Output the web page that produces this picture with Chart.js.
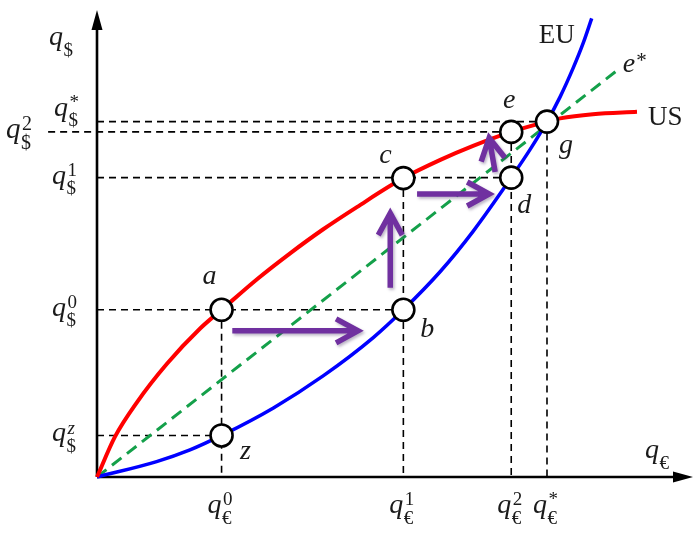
<!DOCTYPE html>
<html>
<head>
<meta charset="utf-8">
<script src="https://cdn.jsdelivr.net/npm/chart.js@4/dist/chart.umd.min.js"></script>
<style>
html, body { margin: 0; padding: 0; background: #fff; }
#wrap { width: 696px; height: 533px; position: relative; }
</style>
</head>
<body>
<div id="wrap"><canvas id="c"></canvas></div>
<script>
// Offer curves: dollars (vertical) against euros (horizontal)
const usX = [0, 0.30, 0.67, 1.17, 1.73, 2.09, 2.68, 3.24, 3.79, 4.36, 5.14, 5.76, 6.31, 6.95, 7.55, 7.77, 8.32, 9.06];
const usY = [0, 0.86, 1.60, 2.42, 3.18, 3.58, 4.23, 4.79, 5.30, 5.78, 6.40, 6.79, 7.09, 7.39, 7.61, 7.68, 7.77, 7.82];
const euX = [0, 1.00, 1.56, 2.09, 2.96, 3.80, 4.64, 5.14, 5.76, 6.31, 6.95, 7.27, 7.55, 7.77, 7.99, 8.16, 8.30];
const euY = [0, 0.33, 0.58, 0.89, 1.48, 2.17, 2.99, 3.58, 4.40, 5.26, 6.41, 7.02, 7.61, 8.14, 8.76, 9.30, 9.82];
const eStarX = [0, 8.72];
const eStarY = [0, 8.70];

// Marked points along the adjustment path
const pointNames = ['a', 'b', 'c', 'd', 'e', 'g', 'z'];
const pointX = [2.09, 5.14, 5.14, 6.95, 6.95, 7.55, 2.09];
const pointY = [3.58, 3.58, 6.40, 6.41, 7.39, 7.61, 0.89];

// Tick levels on each axis
const euroTickLabels = ['0', '1', '2', '*'];
const euroTickValues = [2.09, 5.14, 6.95, 7.55];
const dollarTickLabels = ['z', '0', '1', '2', '*'];
const dollarTickValues = [0.89, 3.58, 6.41, 7.39, 7.61];

// Dashed guides: horizontal ones run from the dollar axis to a point,
// vertical ones drop from a point to the euro axis
const hGuideY = [0.89, 3.58, 6.41, 7.39, 7.61];
const hGuideFrom = [0, 0, 0, -0.82, 0];
const hGuideTo = [2.09, 5.14, 6.95, 6.95, 7.55];
const vGuideX = [2.09, 5.14, 6.95, 7.55];
const vGuideTop = [3.58, 6.40, 7.39, 7.61];

// Adjustment arrows (start -> end)
const arrowFromX = [2.27, 4.92, 5.37, 6.68];
const arrowFromY = [3.13, 4.05, 6.06, 6.53];
const arrowToX = [4.38, 4.92, 6.58, 6.58];
const arrowToY = [3.13, 5.65, 6.06, 7.26];

const SERIF = '"Liberation Serif", "DejaVu Serif", serif';

// label placement around each marked point (dx, baseline dy in px)
const pointLabelOffset = {
  a: [-12, -26], b: [24, 27], c: [-18, -15], d: [13, 35],
  e: [-2, -24], g: [19, 31], z: [24, 24]
};

const zip = (xs, ys) => xs.map((x, i) => ({ x, y: ys[i] }));

const datasets = [];
datasets.push({
  label: 'points',
  data: zip(pointX, pointY),
  showLine: false,
  pointRadius: 11,
  pointHoverRadius: 11,
  pointBorderWidth: 2.6,
  pointBackgroundColor: '#ffffff',
  pointBorderColor: '#000000',
  order: 0
});
datasets.push({
  label: 'US',
  data: zip(usX, usY),
  borderColor: '#ff0000',
  borderWidth: 4,
  pointRadius: 0,
  cubicInterpolationMode: 'monotone',
  fill: false,
  order: 1
});
datasets.push({
  label: 'EU',
  data: zip(euX, euY),
  borderColor: '#0000ff',
  borderWidth: 3.5,
  pointRadius: 0,
  cubicInterpolationMode: 'monotone',
  fill: false,
  order: 1
});
datasets.push({
  label: 'e*',
  data: zip(eStarX, eStarY),
  borderColor: '#14a04a',
  borderWidth: 3,
  borderDash: [12, 7],
  pointRadius: 0,
  fill: false,
  order: 2
});
hGuideY.forEach((y, i) => {
  datasets.push({
    label: 'h' + i,
    data: [{ x: hGuideFrom[i], y }, { x: hGuideTo[i], y }],
    borderColor: '#000',
    borderWidth: 1.6,
    borderDash: [7, 5],
    pointRadius: 0,
    order: 3
  });
});
vGuideX.forEach((x, i) => {
  datasets.push({
    label: 'v' + i,
    data: [{ x, y: vGuideTop[i] }, { x, y: 0 }],
    borderColor: '#000',
    borderWidth: 1.6,
    borderDash: [7, 5],
    pointRadius: 0,
    order: 3
  });
});

// "q" with a currency subscript and an optional superscript
function drawQ(ctx, left, base, sub, sup, size) {
  ctx.textAlign = 'left';
  ctx.textBaseline = 'alphabetic';
  ctx.font = 'italic ' + size + 'px ' + SERIF;
  ctx.fillText('q', left, base);
  const w = ctx.measureText('q').width;
  const s = Math.round(size * 0.68);
  const sx = left + w + 0.5;
  ctx.font = s + 'px ' + SERIF;
  ctx.fillText(sub, sx, base + size * 0.38);
  if (sup) {
    ctx.font = (sup === 'z' ? 'italic ' : '') + s + 'px ' + SERIF;
    ctx.fillText(sup, sx + 1, base - size * 0.28);
  }
}

function drawArrow(ctx, x1, y1, x2, y2) {
  const ang = Math.atan2(y2 - y1, x2 - x1);
  const hl = 22, hw = 12;
  const c = Math.cos(ang), s = Math.sin(ang);
  ctx.beginPath();
  ctx.moveTo(x1, y1);
  ctx.lineTo(x2 - 2 * c, y2 - 2 * s);
  ctx.moveTo(x2 - hl * c + hw * s, y2 - hl * s - hw * c);
  ctx.lineTo(x2, y2);
  ctx.lineTo(x2 - hl * c - hw * s, y2 - hl * s + hw * c);
  ctx.stroke();
}

const diagram = {
  id: 'diagram',
  beforeDatasetsDraw(chart) {
    const { ctx, scales: { x, y } } = chart;
    const x0 = x.getPixelForValue(0), y0 = y.getPixelForValue(0);
    const xEnd = x.getPixelForValue(10), yEnd = y.getPixelForValue(10);
    ctx.save();
    ctx.strokeStyle = '#000';
    ctx.fillStyle = '#000';
    ctx.lineWidth = 2.6;
    ctx.beginPath();
    ctx.moveTo(x0, y0);
    ctx.lineTo(x0, yEnd + 14);
    ctx.moveTo(x0, y0);
    ctx.lineTo(xEnd - 14, y0);
    ctx.stroke();
    // arrow heads
    ctx.beginPath();
    ctx.moveTo(x0, yEnd);
    ctx.lineTo(x0 - 5.5, yEnd + 20);
    ctx.lineTo(x0 + 5.5, yEnd + 20);
    ctx.closePath();
    ctx.fill();
    ctx.beginPath();
    ctx.moveTo(xEnd, y0);
    ctx.lineTo(xEnd - 20, y0 - 5.5);
    ctx.lineTo(xEnd - 20, y0 + 5.5);
    ctx.closePath();
    ctx.fill();
    ctx.restore();
  },
  afterDatasetsDraw(chart) {
    const { ctx, scales: { x, y } } = chart;
    ctx.save();
    ctx.strokeStyle = '#7030a0';
    ctx.lineWidth = 5.5;
    ctx.lineCap = 'butt';
    ctx.lineJoin = 'miter';
    ctx.shadowColor = 'rgba(60,40,90,0.35)';
    ctx.shadowBlur = 3;
    ctx.shadowOffsetX = 1.5;
    ctx.shadowOffsetY = 2;
    arrowFromX.forEach((_, i) => {
      drawArrow(ctx,
        x.getPixelForValue(arrowFromX[i]), y.getPixelForValue(arrowFromY[i]),
        x.getPixelForValue(arrowToX[i]), y.getPixelForValue(arrowToY[i]));
    });
    ctx.restore();
  },
  afterDraw(chart) {
    const { ctx, scales: { x, y } } = chart;
    ctx.save();
    ctx.fillStyle = '#1a1a1a';
    // dollar axis
    drawQ(ctx, 49, 45, '$', null, 28);
    dollarTickLabels.forEach((t, i) => {
      const py = y.getPixelForValue(dollarTickValues[i]);
      if (t === '2') drawQ(ctx, 6, py + 6, '$', t, 29);
      else if (t === '*') drawQ(ctx, 54, py - 6, '$', t, 28);
      else drawQ(ctx, 52, py + 6, '$', t, 28);
    });
    // euro axis
    drawQ(ctx, 645, 458, '€', null, 28);
    euroTickLabels.forEach((t, i) => {
      const px = x.getPixelForValue(euroTickValues[i]);
      drawQ(ctx, px - 14, 513, '€', t, 28);
    });
    // point names
    ctx.font = 'italic 28px ' + SERIF;
    ctx.textAlign = 'center';
    ctx.textBaseline = 'alphabetic';
    pointNames.forEach((n, i) => {
      const off = pointLabelOffset[n];
      ctx.fillText(n, x.getPixelForValue(pointX[i]) + off[0], y.getPixelForValue(pointY[i]) + off[1]);
    });
    // curve names
    ctx.textAlign = 'left';
    ctx.font = '27px ' + SERIF;
    const euEnd = euX.length - 1, usEnd = usX.length - 1;
    ctx.fillText('EU', x.getPixelForValue(euX[euEnd]) - 53, y.getPixelForValue(euY[euEnd]) + 25);
    ctx.fillText('US', x.getPixelForValue(usX[usEnd]) + 11, y.getPixelForValue(usY[usEnd]) + 13);
    ctx.font = 'italic 28px ' + SERIF;
    const ex = x.getPixelForValue(eStarX[1]) + 6, ey = y.getPixelForValue(eStarY[1]) + 1;
    ctx.fillText('e', ex, ey);
    const ew = ctx.measureText('e').width;
    ctx.font = '21px ' + SERIF;
    ctx.fillText('*', ex + ew + 1, ey - 5);
    ctx.restore();
  }
};

new Chart(document.getElementById('c'), {
  type: 'line',
  data: { datasets },
  options: {
    responsive: true,
    maintainAspectRatio: false,
    animation: false,
    events: [],
    layout: { padding: 0, autoPadding: false },
    plugins: { legend: { display: false }, tooltip: { enabled: false } },
    scales: {
      x: { type: 'linear', min: -1.6275, max: 10.05, display: false },
      y: { type: 'linear', min: -1.199, max: 10.214, display: false }
    }
  },
  plugins: [diagram]
});
</script>
</body>
</html>
